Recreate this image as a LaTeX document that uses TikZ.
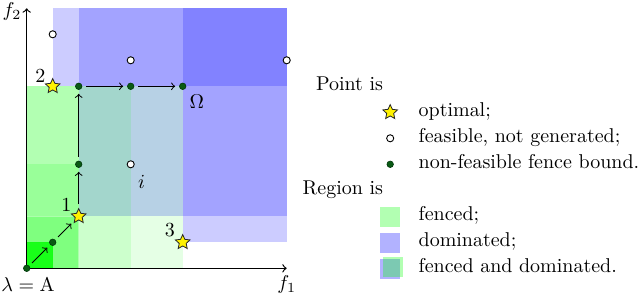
\documentclass[tikz,border=0pt]{standalone}
\usetikzlibrary{shapes.geometric}
\definecolor{fencedot}{RGB}{10,90,20}
\definecolor{fenceborder}{RGB}{0,55,10}
\begin{document}
\begin{tikzpicture}[x=0.4573cm,y=0.4573cm,
  optstar/.style={star, star points=5, star point ratio=2.1, fill=yellow, draw=black!85, line width=0.4pt, inner sep=0pt, minimum size=0.27cm},
  feas/.style={circle, fill=white, draw=black, line width=0.45pt, inner sep=0pt, minimum size=0.125cm},
  fence/.style={circle, fill=fencedot, draw=fenceborder, line width=0.3pt, inner sep=0pt, minimum size=0.115cm},
  arr/.style={->, shorten >=2pt, shorten <=2pt, line width=0.5pt},
  dom/.style={fill=blue, opacity=0.2},
  fenced/.style={fill=green, opacity=#1},
  axis/.style={->, line width=0.6pt},
  lab/.style={inner sep=0pt},
  legtext/.style={anchor=mid west, inner sep=0pt},
  leghead/.style={anchor=mid east, inner sep=0pt},
]
\useasboundingbox (-1.027,-0.988) rectangle (23.588,10.319);
% dominated regions
\fill[dom] (1,7) rectangle (10,10);
\fill[dom] (2,2) rectangle (10,10);
\fill[dom] (6,1) rectangle (10,10);
% fenced cells
\fill[fenced=0.1] (4,0) rectangle (6,7);
\fill[fenced=0.2] (2,0) rectangle (4,7);
\fill[fenced=0.3] (0,4) rectangle (2,7);
\fill[fenced=0.4] (0,2) rectangle (2,4);
\fill[fenced=0.5] (0,0) -- (2,0) -- (2,2) -- (0,2) -- (0,1) -- (1,1) -- (1,0) -- cycle;
\fill[fenced=0.9] (0,0) rectangle (1,1);
% axes
\coordinate (o) at (0,0);
\coordinate (xe) at (10,0);
\coordinate (ye) at (0,10);
\draw[axis] (o) -- (xe);
\draw[axis] (o) -- (ye);
\node[lab] (f1) at (10.0,-0.64) {$f_1$};
\node[lab] (f2) at (-0.57,9.86) {$f_2$};
\node[lab] (lA) at (0.05,-0.64) {$\lambda=\mathrm{A}$};
% points
\node[fence] (A) at (0,0) {};
\node[fence] (b1) at (1,1) {};
\node[optstar] (s1) at (2,2) {};
\node[fence] (b2) at (2,4) {};
\node[fence] (b3) at (2,7) {};
\node[fence] (b4) at (4,7) {};
\node[fence] (W) at (6,7) {};
\node[optstar] (s2) at (1,7) {};
\node[optstar] (s3) at (6,1) {};
\node[feas] (pi) at (4,4) {};
\node[feas] (c1) at (4,8) {};
\node[feas] (c2) at (10,8) {};
\node[feas] (c3) at (1,9) {};
% arrows
\draw[arr] (A) -- (b1);
\draw[arr] (b1) -- (s1);
\draw[arr] (s1) -- (b2);
\draw[arr] (b2) -- (b3);
\draw[arr] (b3) -- (b4);
\draw[arr] (b4) -- (W);
% labels
\node[lab] (n1) at (1.53,2.43) {1};
\node[lab] (n2) at (0.53,7.40) {2};
\node[lab] (n3) at (5.51,1.47) {3};
\node[lab] (nW) at (6.54,6.41) {$\Omega$};
\node[lab] (ni) at (4.42,3.33) {$i$};
% legend
\node[leghead] (h1) at (13.72,7) {Point is};
\node[optstar] (ls) at (13.98,6) {};
\node[legtext] (t1) at (15.06,6) {optimal;};
\node[feas] (lc) at (13.98,5) {};
\node[legtext] (t2) at (15.06,5) {feasible, not generated;};
\node[fence] (ld) at (13.98,4) {};
\node[legtext] (t3) at (15.06,4) {non-feasible fence bound.};
\node[leghead] (h2) at (13.72,3) {Region is};
\fill[green, opacity=0.3] (13.6,1.57) rectangle (14.37,2.34);
\node[legtext] (t4) at (15.06,2) {fenced;};
\fill[blue, opacity=0.3] (13.6,0.58) rectangle (14.37,1.35);
\node[legtext] (t5) at (15.06,1) {dominated;};
\fill[blue, opacity=0.3] (13.6,-0.42) rectangle (14.37,0.35);
\fill[green, opacity=0.3] (13.72,-0.32) rectangle (14.49,0.45);
\node[legtext] (t6) at (15.06,0) {fenced and dominated.};
\end{tikzpicture}
\end{document}
